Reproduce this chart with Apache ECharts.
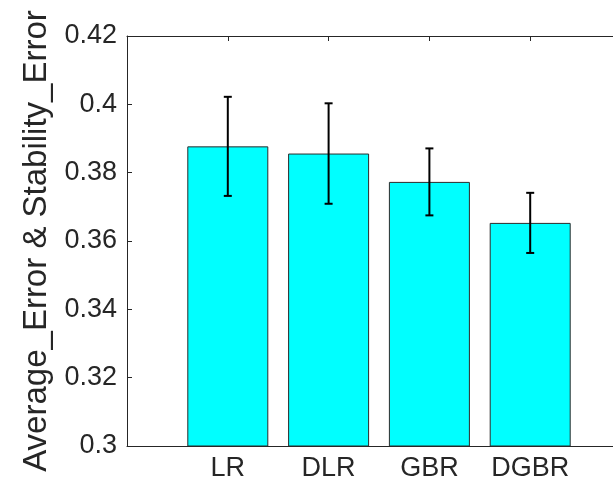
<!DOCTYPE html>
<html>
<head>
<meta charset="utf-8">
<script src="https://cdn.jsdelivr.net/npm/echarts@6/dist/echarts.min.js"></script>
<style>html,body{margin:0;padding:0;background:#fff;overflow:hidden;}#c{width:634px;height:482px;}</style>
</head>
<body>
<div id="c"></div>
<script>
var categories = ['LR', 'DLR', 'GBR', 'DGBR'];
var positions = [1, 2, 3, 4];
var means = [0.3877, 0.3856, 0.3773, 0.3653];
var errors = [0.0145, 0.0147, 0.0098, 0.0088];
var yTicks = [0.3, 0.32, 0.34, 0.36, 0.38, 0.4, 0.42];
var yTitle = 'Average_Error & Stability_Error';

var font = '"Liberation Sans", Arial, Helvetica, sans-serif';
var txt = '#262626';
var axisCol = '#262626';

var barData = positions.map(function (p, i) { return [p, means[i]]; });
var errData = positions.map(function (p, i) { return [p, means[i] - errors[i], means[i] + errors[i]]; });

var chart = echarts.init(document.getElementById('c'), null, { renderer: 'canvas' });
chart.setOption({
  animation: false,
  backgroundColor: '#fff',
  grid: { left: 127, top: 36, right: 0.5, bottom: 35, containLabel: false },
  xAxis: [{
    type: 'value', min: 0, max: 5, interval: 1, position: 'bottom',
    axisLine: { show: true, lineStyle: { color: axisCol, width: 1 } },
    axisTick: { show: true, inside: true, length: 5, lineStyle: { color: axisCol } },
    splitLine: { show: false },
    axisLabel: {
      color: txt, fontFamily: font, fontSize: 27, margin: 9,
      formatter: function (v) { var i = positions.indexOf(v); return i >= 0 ? categories[i] : ''; }
    }
  }, {
    type: 'value', min: 0, max: 5, interval: 1, position: 'top',
    axisLine: { show: true, onZero: false, lineStyle: { color: axisCol, width: 1 } },
    axisTick: { show: true, inside: true, length: 5, lineStyle: { color: axisCol } },
    splitLine: { show: false },
    axisLabel: { show: false }
  }],
  yAxis: {
    type: 'value', min: yTicks[0], max: yTicks[yTicks.length - 1], interval: 0.02,
    axisLine: { show: true, lineStyle: { color: axisCol, width: 1 } },
    axisTick: { show: true, inside: true, length: 5, lineStyle: { color: axisCol } },
    splitLine: { show: false },
    axisLabel: { color: txt, fontFamily: font, fontSize: 27, margin: 10 },
    name: yTitle, nameLocation: 'middle', nameRotate: 90, nameGap: 68,
    nameTextStyle: { color: txt, fontFamily: font, fontSize: 33 }
  },
  series: [{
    type: 'bar', xAxisIndex: 0, data: barData, barWidth: 81,
    itemStyle: { color: '#00FFFF', borderColor: '#2b2b2b', borderWidth: 1 }
  }, {
    type: 'custom', xAxisIndex: 0, data: errData, z: 5,
    renderItem: function (params, api) {
      var x = api.value(0);
      var lo = api.coord([x, api.value(1)]);
      var hi = api.coord([x, api.value(2)]);
      var cap = 4;
      var st = { stroke: '#000', lineWidth: 2 };
      return {
        type: 'group',
        children: [
          { type: 'line', shape: { x1: lo[0], y1: lo[1], x2: hi[0], y2: hi[1] }, style: st },
          { type: 'line', shape: { x1: lo[0] - cap, y1: lo[1], x2: lo[0] + cap, y2: lo[1] }, style: st },
          { type: 'line', shape: { x1: hi[0] - cap, y1: hi[1], x2: hi[0] + cap, y2: hi[1] }, style: st }
        ]
      };
    }
  }]
});
</script>
</body>
</html>
